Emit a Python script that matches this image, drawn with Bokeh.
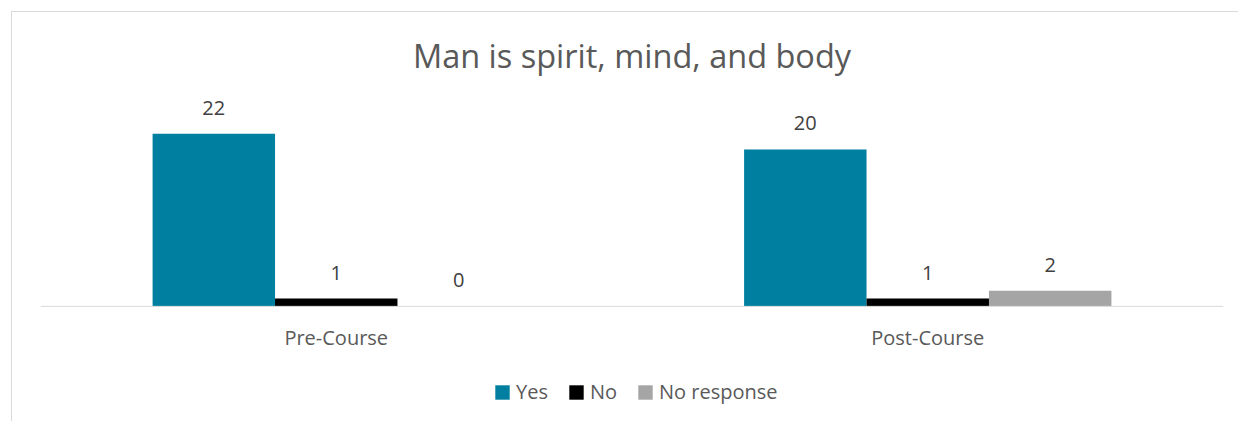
from bokeh.plotting import figure
from bokeh.models import ColumnDataSource, FactorRange, LabelSet, Legend, LegendItem, Range1d, Span
from bokeh.core.properties import value
from bokeh.transform import dodge
from bokeh.embed import file_html
from bokeh.resources import INLINE

categories = ["Pre-Course", "Post-Course"]
series = ["Yes", "No", "No response"]
yes_vals = [22, 20]
no_vals = [1, 1]
noresp_vals = [0, 2]
colors = ["#007FA0", "#000000", "#A5A5A5"]

FONT = "Open Sans"
BW = 0.207

src = ColumnDataSource(dict(
    cat=categories,
    yes=yes_vals, no=no_vals, nr=noresp_vals,
    yes_l=[str(v) for v in yes_vals],
    no_l=[str(v) for v in no_vals],
    nr_l=[str(v) for v in noresp_vals],
))

p = figure(x_range=FactorRange(factors=categories), y_range=Range1d(-13.27, 27),
           frame_width=1183, frame_height=316, output_backend="svg", toolbar_location=None,
           x_axis_location=None, y_axis_location=None,
           min_border_left=28, min_border_right=15,
           min_border_top=82, min_border_bottom=11,
           title="Man is spirit, mind, and body")
p.margin = (11, 0, 0, 11)
p.styles = {"border-left": "1px solid #d9d9d9", "border-top": "1px solid #d9d9d9"}
p.outline_line_color = None
p.xgrid.grid_line_color = None
p.ygrid.grid_line_color = None
p.background_fill_color = "white"
p.border_fill_color = "white"

p.title.align = "center"
p.title.text_font = FONT
p.title.text_font_size = "32.5px"
p.title.text_font_style = "normal"
p.title.text_color = "#595959"
p.title.standoff = 33

# category baseline and category labels
p.add_layout(Span(location=0, dimension="width", line_color="#d9d9d9", line_width=1))
p.add_layout(LabelSet(x="cat", y=0, text="cat", source=src, text_align="center",
                      text_baseline="alphabetic", y_offset=-39,
                      text_font=value(FONT), text_font_size=value("20px"),
                      text_color="#595959"))

offsets = [-BW, 0, BW]
fields = ["yes", "no", "nr"]
lbls = ["yes_l", "no_l", "nr_l"]
renderers = []
for off, f, lf, c in zip(offsets, fields, lbls, colors):
    r = p.vbar(x=dodge("cat", off, range=p.x_range), top=f, width=BW, source=src,
               fill_color=c, line_color=None)
    renderers.append(r)
    ls = LabelSet(x=dodge("cat", off, range=p.x_range), y=f, text=lf, source=src,
                  text_align="center", text_baseline="alphabetic", y_offset=19,
                  text_font=value(FONT), text_font_size=value("20px"), text_color="#404040")
    p.add_layout(ls)

legend = Legend(items=[LegendItem(label=s, renderers=[r]) for s, r in zip(series, renderers)],
                orientation="horizontal", location=(453, 5),
                glyph_width=18, glyph_height=18, label_standoff=5, spacing=19,
                label_text_font=FONT, label_text_font_size="20px", label_text_color="#595959",
                border_line_color=None, background_fill_alpha=0, padding=0, margin=0)
p.add_layout(legend)

open("out.html", "w").write(file_html(p, INLINE))
